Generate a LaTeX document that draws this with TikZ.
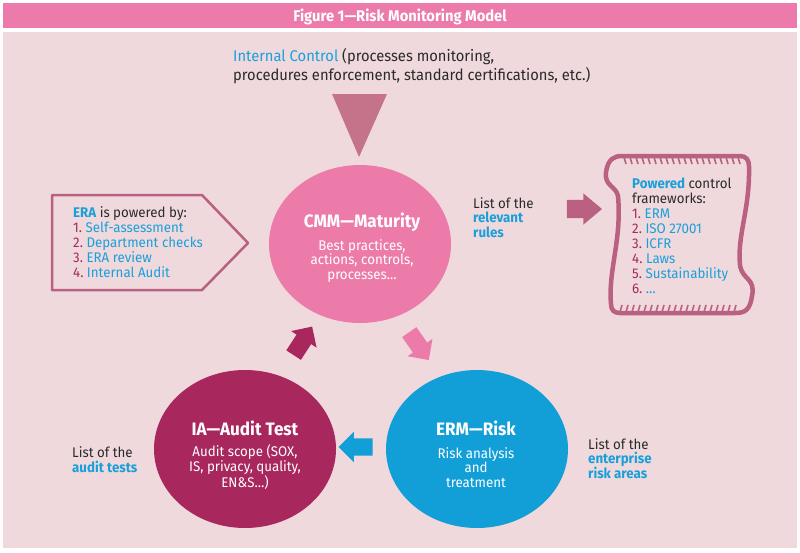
\documentclass[tikz,border=0pt]{standalone}
\usepackage{fontspec}
\setmainfont{Fira Sans}[FakeStretch=0.95]
\usetikzlibrary{shapes.geometric,shapes.arrows,calc}

\definecolor{titlePink}{HTML}{EC7BAB}
\definecolor{panelPink}{HTML}{EFD9DD}
\definecolor{cmmPink}{HTML}{EC7BAA}
\definecolor{ermBlue}{HTML}{129FD8}
\definecolor{iaPlum}{HTML}{A8275C}
\definecolor{triRose}{HTML}{C4738A}
\definecolor{frameRose}{HTML}{BA6080}
\definecolor{listBlue}{HTML}{19A0DB}
\definecolor{numPlum}{HTML}{A8275C}
\definecolor{darkText}{HTML}{2A2A2A}

\newcommand{\numItem}[2]{{\color{numPlum}#1.}~{\color{listBlue}#2}}

\begin{document}
\begin{tikzpicture}[x=1pt,y=-1pt,
  every node/.style={inner sep=0pt, text=darkText},
  blob/.style={ellipse, minimum width=182pt, minimum height=158pt},
  blobTitle/.style={text=white, font=\fontsize{18}{20}\selectfont\bfseries},
  blobText/.style={text=white, align=center, font=\fontsize{14}{14.5}\selectfont},
  listText/.style={align=left, font=\fontsize{14}{15}\selectfont},
  blockArrow/.style={single arrow, inner xsep=0pt, inner ysep=8.5pt,
    minimum height=34pt, single arrow head extend=6.5pt},
  frame/.style={draw=frameRose, line width=2.5pt, line join=round}]

\useasboundingbox (0,0) rectangle (800,552);

% Title bar and panel
\fill[titlePink] (3,3) rectangle (797,28);
\node[text=white, font=\fontsize{15.5}{17}\selectfont\bfseries, anchor=base]
  (figTitle) at (400,21) {Figure 1—Risk Monitoring Model};
\fill[panelPink] (3,32) rectangle (797,548);

% Internal control and its triangle (base = last line)
\node[listText, font=\fontsize{15.5}{18.5}\selectfont, anchor=base west] (internalControl) at (233,80)
  {{\color{listBlue}Internal Control} (processes monitoring,\\
   procedures enforcement, standard certifications, etc.)};
\fill[triRose] (332,94) -- (387,94) -- (359,157) -- cycle;

% The three circles
\node[blob, fill=cmmPink] (cmmMaturity) at (360,244) {};
\node[blob, fill=ermBlue] (ermRisk) at (477,449) {};
\node[blob, fill=iaPlum] (iaAuditTest) at (245,449) {};

\node[blobTitle, anchor=base] (cmmTitle) at (362,227) {CMM—Maturity};
\node[blobText, anchor=base] (cmmText) at (362,279) {Best practices,\\ actions, controls,\\ processes…};
\node[blobTitle, anchor=base] (ermTitle) at (476,435) {ERM—Risk};
\node[blobText, anchor=base] (ermText) at (476,487) {Risk analysis\\ and\\ treatment};
\node[blobTitle, anchor=base] (iaTitle) at (245,435) {IA—Audit Test};
\node[blobText, anchor=base] (iaText) at (245,487) {Audit scope (SOX,\\ IS, privacy, quality,\\ EN\&S…)};

% Block arrows between the circles
\node[blockArrow, fill=cmmPink, rotate=-55] (cmmToErm) at ($(cmmMaturity)!0.5!(ermRisk)+(-2,-4)$) {};
\node[blockArrow, fill=ermBlue, rotate=180] (ermToIa) at ($(ermRisk)!0.5!(iaAuditTest)+(-1,-2)$) {};
\node[blockArrow, fill=iaPlum, rotate=57] (iaToCmm) at ($(iaAuditTest)!0.5!(cmmMaturity)+(-2,-2)$) {};

% ERA box
\draw[frame] (52,195) -- (202,195) -- (248,243) -- (202,290) -- (52,290) -- cycle;
\node[listText, anchor=base west] (eraList) at (73,277)
  {{\color{listBlue}\bfseries ERA} is powered by:\\
   \numItem{1}{Self-assessment}\\
   \numItem{2}{Department checks}\\
   \numItem{3}{ERA review}\\
   \numItem{4}{Internal Audit}};

% Rules and the scroll
\node[listText, font=\fontsize{14}{14.5}\selectfont, anchor=base west] (relevantRules) at (473,237)
  {List of the\\ {\color{listBlue}\bfseries relevant}\\ {\color{listBlue}\bfseries rules}};
\node[blockArrow, fill=frameRose, minimum height=35pt, single arrow tip angle=80,
  inner ysep=9pt] (toScroll) at (579,209) {};

\draw[draw=frameRose, line width=4.5pt, line join=round]
  (622,156) -- (740,156) .. controls (746,156) and (749,160) .. (749,166)
  .. controls (750,210) and (737,235) .. (740,265)
  .. controls (742,280) and (756,278) .. (752,296)
  .. controls (750,310) and (745,313) .. (735,313)
  -- (620,313) .. controls (614,313) and (611,310) .. (611,304)
  .. controls (608,270) and (622,240) .. (618,196)
  .. controls (616,186) and (604,186) .. (606,172)
  .. controls (608,159) and (614,156) .. (622,156) -- cycle;
\foreach \x in {624,630,...,738}
  \draw[frameRose, line width=1.6pt] (\x,157) -- ++(2,7);
\foreach \x in {620,626,...,734}
  \draw[frameRose, line width=1.6pt] (\x,312) -- ++(2,-7);

\node[listText, anchor=base west] (scrollList) at (632,293)
  {{\color{listBlue}\bfseries Powered} control\\ frameworks:\\
   \numItem{1}{ERM}\\
   \numItem{2}{ISO 27001}\\
   \numItem{3}{ICFR}\\
   \numItem{4}{Laws}\\
   \numItem{5}{Sustainability}\\
   \numItem{6}{…}};

% Side notes
\node[listText, anchor=base west] (auditTests) at (72,472)
  {List of the\\ {\color{listBlue}\bfseries audit tests}};
\node[listText, font=\fontsize{14}{14.5}\selectfont, anchor=base west] (riskAreas) at (588,478)
  {List of the\\ {\color{listBlue}\bfseries enterprise}\\ {\color{listBlue}\bfseries risk areas}};
\end{tikzpicture}
\end{document}
